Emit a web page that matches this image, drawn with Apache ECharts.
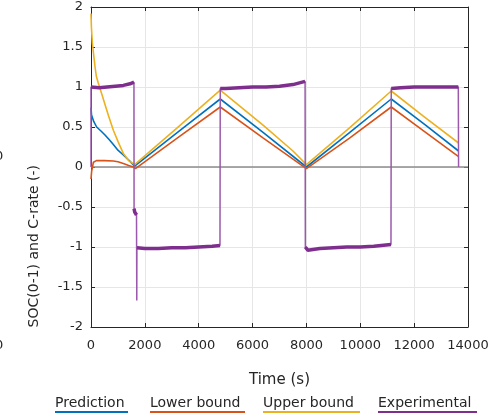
<!DOCTYPE html>
<html>
<head>
<meta charset="utf-8">
<script src="https://cdn.jsdelivr.net/npm/echarts@6/dist/echarts.min.js"></script>
<style>html,body{margin:0;padding:0;background:#fff;}#c{width:492px;height:416px;}</style>
</head>
<body>
<div id="c"></div>
<script>
// ---- data ----
var xTicks = [0, 2000, 4000, 6000, 8000, 10000, 12000, 14000];
var yTicks = [-2, -1.5, -1, -0.5, 0, 0.5, 1, 1.5, 2];

var predTime  = [0, 20, 100, 210, 370, 520, 680, 830, 1000, 1200, 1450, 1620, 3200, 4800, 6400, 8000, 9600, 11150, 12400, 13650];
var predValue = [0.74, 0.65, 0.57, 0.50, 0.45, 0.40, 0.34, 0.28, 0.21, 0.15, 0.07, 0.01, 0.43, 0.85, 0.43, 0.0, 0.43, 0.85, 0.53, 0.20];

var lowTime  = [0, 25, 90, 200, 500, 830, 1000, 1200, 1400, 1570, 1650, 3200, 4800, 6400, 8000, 9600, 11150, 12400, 13650];
var lowValue = [-0.15, -0.05, 0.06, 0.08, 0.08, 0.075, 0.065, 0.045, 0.02, 0.0, -0.02, 0.36, 0.75, 0.36, -0.02, 0.36, 0.75, 0.44, 0.13];

var upTime  = [0, 15, 50, 100, 150, 200, 270, 335, 420, 520, 650, 830, 1000, 1200, 1400, 1620, 3200, 4800, 6400, 7500, 8000, 9600, 11150, 12400, 13650];
var upValue = [1.92, 1.75, 1.55, 1.40, 1.25, 1.13, 1.05, 0.98, 0.89, 0.78, 0.64, 0.46, 0.32, 0.17, 0.08, 0.03, 0.49, 0.96, 0.52, 0.2, 0.03, 0.49, 0.95, 0.62, 0.30];

var expTime  = [0, 0, 10, 300, 600, 900, 1200, 1450, 1595, 1600, 1620, 1690, 1700, 1705, 2000, 2500, 3000, 3500, 4000, 4500, 4790,
                4800, 5000, 5500, 6000, 6500, 7000, 7500, 7950, 7960, 8050, 8500, 9000, 9500, 10000, 10500, 11140,
                11150, 11500, 12000, 12500, 13000, 13640, 13650];
var expValue = [0, 1.0, 1.0, 0.99, 1.0, 1.01, 1.02, 1.04, 1.06, -0.52, -0.56, -0.6, -1.67, -1.01, -1.02, -1.02, -1.01, -1.01, -1.0, -0.99, -0.98,
                0.98, 0.98, 0.99, 1.0, 1.0, 1.01, 1.03, 1.07, -1.0, -1.04, -1.02, -1.01, -1.0, -1.0, -0.99, -0.97,
                0.98, 0.99, 1.0, 1.0, 1.0, 1.0, 0.0];

var zeroTime = [0, 14000];
var zeroValue = [0, 0];

var legendNames = ['Prediction', 'Lower bound', 'Upper bound', 'Experimental'];
var colors = ['#0072BD', '#D95319', '#EDB120', '#7E2F8E'];

function pairs(t, v) { return t.map(function (x, i) { return [x, v[i]]; }); }
// plateau overlay (thicker band for the noisy flat parts)
function plateaus(t, v) {
  var out = [];
  for (var i = 0; i < t.length; i++) {
    if (i > 0 && Math.abs(v[i] - v[i - 1]) > 0.3) out.push(null);
    out.push([t[i], v[i]]);
  }
  return out;
}

var txt = '#262626';
var font = 'DejaVu Sans';
var chart = echarts.init(document.getElementById('c'), null, {renderer: 'canvas'});

var baseX = {
  type: 'value', min: 0, max: 14000, interval: 2000,
  axisLine: {show: true, onZero: false, lineStyle: {color: txt, width: 1}},
  axisTick: {show: true, inside: true, length: 4, lineStyle: {color: txt}},
  splitLine: {show: false}
};
var baseY = {
  type: 'value', min: -2, max: 2, interval: 0.5,
  axisLine: {show: true, onZero: false, lineStyle: {color: txt, width: 1}},
  axisTick: {show: true, inside: true, length: 4, lineStyle: {color: txt}},
  splitLine: {show: false}
};

var legendX = [55, 150, 263, 378];
var legendW = [73, 95, 97, 99];
var graphics = [];
legendNames.forEach(function (n, i) {
  graphics.push({type: 'text', left: legendX[i], top: 396, style: {text: n, font: '14px "' + font + '"', fill: txt}});
  graphics.push({type: 'rect', left: legendX[i], top: 411, shape: {width: legendW[i], height: 2}, style: {fill: colors[i]}});
});
graphics.push({type: 'text', left: 27, top: 165, rotation: Math.PI / 2, style: {text: 'SOC(0-1) and C-rate (-)', font: '14px "' + font + '"', fill: txt, align: 'center', verticalAlign: 'middle'}});
graphics.push({type: 'text', left: -5, top: 339, style: {text: '0', font: '13px "' + font + '"', fill: txt}});
graphics.push({type: 'text', left: -5, top: 150, style: {text: '0', font: '13px "' + font + '"', fill: txt}});

chart.setOption({
  animation: false,
  backgroundColor: '#fff',
  textStyle: {fontFamily: font},
  grid: {left: 91, right: 24, top: 7, bottom: 89, containLabel: false, outerBoundsMode: 'none', show: false},
  xAxis: [
    Object.assign({}, baseX, {
      position: 'bottom',
      name: 'Time (s)', nameLocation: 'middle', nameGap: 46,
      nameTextStyle: {color: txt, fontSize: 15, fontFamily: font},
      axisLabel: {color: txt, fontSize: 13, fontFamily: font, margin: 12, formatter: function (v) { return String(v); }},
      splitLine: {show: true, lineStyle: {color: '#e6e6e6', width: 1}}
    }),
    Object.assign({}, baseX, {position: 'top', axisLabel: {show: false}})
  ],
  yAxis: [
    Object.assign({}, baseY, {
      position: 'left',
      axisLabel: {color: txt, fontSize: 13, fontFamily: font, margin: 8, formatter: function (v) { return String(v); }},
      splitLine: {show: true, lineStyle: {color: '#e6e6e6', width: 1}}
    }),
    Object.assign({}, baseY, {position: 'right', axisLabel: {show: false}})
  ],
  graphic: graphics,
  series: [
    {name: 'zero', type: 'line', data: pairs(zeroTime, zeroValue), symbol: 'none', silent: true,
     lineStyle: {color: '#8c8c8c', width: 1.5}, z: 1},
    {name: legendNames[0], type: 'line', data: pairs(predTime, predValue), symbol: 'none',
     lineStyle: {color: colors[0], width: 1.6}, z: 3},
    {name: legendNames[1], type: 'line', data: pairs(lowTime, lowValue), symbol: 'none',
     lineStyle: {color: colors[1], width: 1.6}, z: 3},
    {name: legendNames[2], type: 'line', data: pairs(upTime, upValue), symbol: 'none',
     lineStyle: {color: colors[2], width: 1.6}, z: 3},
    {name: legendNames[3], type: 'line', data: pairs(expTime, expValue), symbol: 'none',
     lineStyle: {color: '#9b59ab', width: 1.5}, z: 4},
    {name: 'Experimental band', type: 'line', data: plateaus(expTime, expValue), symbol: 'none', connectNulls: false,
     lineStyle: {color: colors[3], width: 3.5}, z: 5}
  ]
});
</script>
</body>
</html>
